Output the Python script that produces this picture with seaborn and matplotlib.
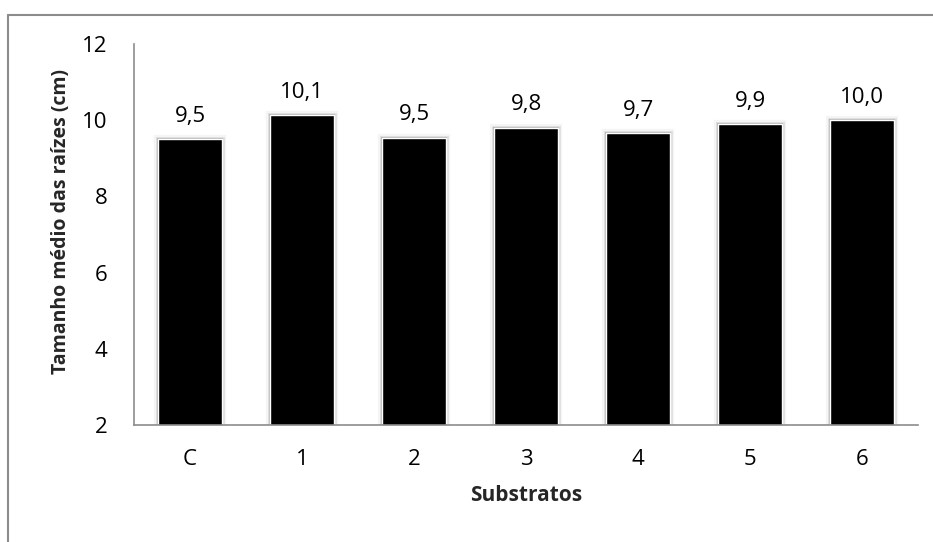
import matplotlib
matplotlib.use("Agg")
import matplotlib.pyplot as plt
import matplotlib.patheffects as pe
from matplotlib.lines import Line2D
import seaborn as sns
import pandas as pd

substratos = ["C", "1", "2", "3", "4", "5", "6"]
tamanho = [9.5, 10.13, 9.54, 9.8, 9.66, 9.9, 10.0]
y_ticks = [2, 4, 6, 8, 10, 12]

df = pd.DataFrame({"Substratos": substratos, "Tamanho": tamanho})

sns.set_style("white")
plt.rcParams["font.family"] = ["Open Sans", "DejaVu Sans"]

fig = plt.figure(figsize=(9.33, 5.42), dpi=100)
ax = fig.add_axes([0.1436, 0.2159, 0.8404, 0.7029])

sns.barplot(data=df, x="Substratos", y="Tamanho", color="black",
            width=0.57, ax=ax, saturation=1)

# soft shadow around each bar
for bar in ax.patches:
    bar.set_path_effects([
        pe.Stroke(linewidth=6, foreground="#c8c8c8", alpha=0.18),
        pe.Stroke(linewidth=3.5, foreground="#a0a0a0", alpha=0.25),
        pe.Stroke(linewidth=1.5, foreground="#707070", alpha=0.35),
        pe.Normal(),
    ])

ax.set_ylim(2, 12)
ax.set_yticks(y_ticks)
ax.set_xlim(-0.5, len(substratos) - 0.5)

for i, v in enumerate(tamanho):
    ax.annotate(f"{v:.1f}".replace(".", ","), xy=(i, v), xytext=(0, 9),
                textcoords="offset points", ha="center", va="bottom",
                fontsize=16, color="black")

ax.tick_params(axis="both", length=0, labelsize=16, colors="black")
ax.tick_params(axis="y", pad=19)
ax.tick_params(axis="x", pad=17)

for side in ["top", "right"]:
    ax.spines[side].set_visible(False)
for side in ["left", "bottom"]:
    ax.spines[side].set_color("#8c8c8c")
    ax.spines[side].set_linewidth(1.2)

ax.set_xlabel("Substratos", fontsize=15, fontweight="bold", labelpad=11)
ax.set_ylabel("Tamanho médio das raízes (cm)", fontsize=14,
              fontweight="bold")
ax.yaxis.set_label_coords(-0.080, 0.533)

# outer chart frame
fig.add_artist(Line2D([8 / 933, 8 / 933], [0, 1 - 15 / 542],
                      transform=fig.transFigure, color="#8c8c8c", lw=1.5))
fig.add_artist(Line2D([8 / 933, 1], [1 - 15 / 542, 1 - 15 / 542],
                      transform=fig.transFigure, color="#8c8c8c", lw=1.5))

fig.savefig("out.png", dpi=100)
